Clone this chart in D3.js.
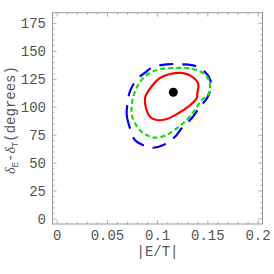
<!DOCTYPE html>
<html>
<head>
<meta charset="utf-8">
<script src="https://cdn.jsdelivr.net/npm/d3@7"></script>
<style>
  body { margin: 0; background: #fff; }
</style>
</head>
<body>
<div id="chart"></div>
<script>
// contour data (|E/T|, delta_E - delta_T in degrees)
var redX = [0.0874, 0.0884, 0.0924, 0.0990, 0.1090, 0.1205, 0.1305, 0.1389, 0.1395, 0.1405, 0.1339, 0.1239, 0.1123, 0.1023, 0.0941, 0.0885];
var redY = [107.9, 99.0, 91.5, 88.5, 89.4, 94.5, 100.4, 107.9, 112.7, 120.7, 127.6, 130.6, 129.7, 126.1, 118.7, 111.0];

var greenX = [0.0740, 0.0742, 0.0807, 0.0891, 0.0974, 0.1090, 0.1190, 0.1289, 0.1372, 0.1438, 0.1504, 0.1521, 0.1488, 0.1405, 0.1289, 0.1173, 0.1056, 0.0957, 0.0874, 0.0807, 0.0758];
var greenY = [99.2, 93.0, 81.1, 75.1, 72.7, 75.1, 81.1, 88.5, 97.5, 106.4, 111.2, 120.1, 127.6, 132.6, 135.0, 135.0, 134.4, 132.1, 127.6, 120.1, 109.7];

var blueX = [0.0708, 0.0692, 0.0725, 0.0774, 0.0864, 0.0957, 0.1056, 0.1173, 0.1239, 0.1339, 0.1422, 0.1494, 0.1528, 0.1523, 0.1468, 0.1386, 0.1255, 0.1090, 0.0941, 0.0874, 0.0791, 0.0725];
var blueY = [107.9, 93.0, 81.1, 70.6, 65.7, 63.7, 66.2, 73.6, 81.1, 90.1, 100.4, 108.5, 117.2, 124.6, 131.8, 136.5, 138.3, 138.3, 135.3, 130.8, 124.6, 114.4];

var bestFit = [0.1156, 113.3];

var xTicks = [0, 0.05, 0.1, 0.15, 0.2];
var xTickLabels = ["0", "0.05", "0.1", "0.15", "0.2"];
var yTicks = [0, 25, 50, 75, 100, 125, 150, 175];

var width = 274, height = 274;
var mono = "'Courier New', 'Liberation Mono', 'DejaVu Sans Mono', monospace";

var svg = d3.select("#chart")
  .append("svg")
    .attr("width", width)
    .attr("height", height);

var x = d3.scaleLinear()
    .domain([-0.0047, 0.2044])
    .range([52.5, 262.5]);
var y = d3.scaleLinear()
    .domain([-4.5, 184.5])
    .range([224, 12.7]);

// frame
svg.append("rect")
    .attr("x", x.range()[0])
    .attr("y", y.range()[1])
    .attr("width", x.range()[1] - x.range()[0])
    .attr("height", y.range()[0] - y.range()[1])
    .attr("fill", "none")
    .attr("stroke", "#999")
    .attr("stroke-width", 1);

// ticks on all four sides, pointing inward
var xMinor = d3.range(0, 0.2001, 0.01);
var yMinor = d3.range(0, 180.1, 5);
var tickG = svg.append("g").attr("stroke", "#999").attr("stroke-width", 0.8);

xMinor.forEach(function(v) {
  var major = xTicks.some(function(t) { return Math.abs(t - v) < 1e-6; });
  var len = major ? 4 : 2;
  tickG.append("line").attr("x1", x(v)).attr("x2", x(v)).attr("y1", y.range()[0]).attr("y2", y.range()[0] - len);
  tickG.append("line").attr("x1", x(v)).attr("x2", x(v)).attr("y1", y.range()[1]).attr("y2", y.range()[1] + len);
});
yMinor.forEach(function(v) {
  var major = yTicks.indexOf(Math.round(v)) >= 0;
  var len = major ? 4 : 2;
  tickG.append("line").attr("y1", y(v)).attr("y2", y(v)).attr("x1", x.range()[0]).attr("x2", x.range()[0] + len);
  tickG.append("line").attr("y1", y(v)).attr("y2", y(v)).attr("x1", x.range()[1]).attr("x2", x.range()[1] - len);
});

// tick labels
svg.selectAll(".xlab")
  .data(xTicks)
  .enter().append("text")
    .attr("x", function(d) { return x(d); })
    .attr("y", 240)
    .attr("text-anchor", "middle")
    .attr("font-family", mono)
    .attr("font-size", "14px")
    .attr("fill", "#555")
    .text(function(d, i) { return xTickLabels[i]; });

svg.selectAll(".ylab")
  .data(yTicks)
  .enter().append("text")
    .attr("x", 46)
    .attr("y", function(d) { return y(d); })
    .attr("dy", "0.34em")
    .attr("text-anchor", "end")
    .attr("font-family", mono)
    .attr("font-size", "14px")
    .attr("fill", "#555")
    .text(function(d) { return d; });

// axis titles
svg.append("text")
    .attr("x", 157.5)
    .attr("y", 256)
    .attr("text-anchor", "middle")
    .attr("font-family", mono)
    .attr("font-size", "14px")
    .attr("fill", "#555")
    .text("|E/T|");

var yt = svg.append("text")
    .attr("transform", "translate(15,120) rotate(-90)")
    .attr("text-anchor", "middle")
    .attr("font-family", mono)
    .attr("font-size", "14px")
    .attr("fill", "#555");
yt.append("tspan").attr("font-family", "Liberation Serif").attr("font-style", "italic").text("δ");
yt.append("tspan").attr("font-size", "9px").attr("dy", 3).text("E");
yt.append("tspan").attr("dy", -3).text("-");
yt.append("tspan").attr("font-family", "Liberation Serif").attr("font-style", "italic").text("δ");
yt.append("tspan").attr("font-size", "9px").attr("dy", 3).text("T");
yt.append("tspan").attr("dy", -3).text("(degrees)");

// contours
var line = d3.line()
    .x(function(d) { return x(d[0]); })
    .y(function(d) { return y(d[1]); })
    .curve(d3.curveCatmullRomClosed);

function pts(xs, ys) { return xs.map(function(v, i) { return [v, ys[i]]; }); }

svg.append("path")
    .attr("d", line(pts(blueX, blueY)))
    .attr("fill", "none")
    .attr("stroke", "#0000ee")
    .attr("stroke-width", 2.2)
    .attr("stroke-dasharray", "14,9");

svg.append("path")
    .attr("d", line(pts(greenX, greenY)))
    .attr("fill", "none")
    .attr("stroke", "#11dd11")
    .attr("stroke-width", 2.2)
    .attr("stroke-dasharray", "5,3");

svg.append("path")
    .attr("d", line(pts(redX, redY)))
    .attr("fill", "none")
    .attr("stroke", "#ff0000")
    .attr("stroke-width", 2.2);

svg.append("circle")
    .attr("cx", x(bestFit[0]))
    .attr("cy", y(bestFit[1]))
    .attr("r", 4.5)
    .attr("fill", "#000");
</script>
</body>
</html>
